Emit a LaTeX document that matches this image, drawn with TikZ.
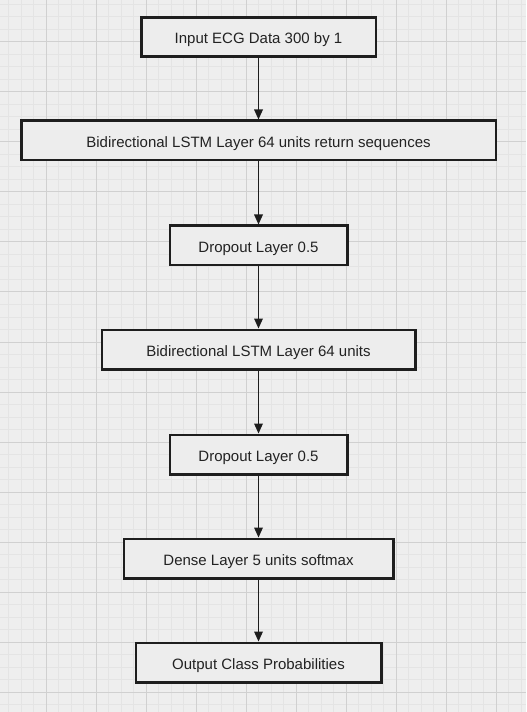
\documentclass[tikz,border=0pt]{standalone}
\usepackage{fontspec}
\setmainfont{Liberation Sans}
\usetikzlibrary{arrows.meta}
\definecolor{gridbg}{HTML}{EEEEEE}
\definecolor{gridminor}{HTML}{E4E4E4}
\definecolor{gridmajor}{HTML}{D0D0D0}
\definecolor{boxfill}{HTML}{EDEDED}
\definecolor{boxline}{HTML}{1E1E1E}
\definecolor{labelcol}{HTML}{222222}
\tikzset{
  >={Triangle[length=7.5pt, width=6.5pt]},
  link/.style ={line width=0.9pt, draw=boxline, ->},
  layer/.style={rectangle, draw=boxline, fill=boxfill, line width=1.9pt,
                minimum height=29.6pt, inner sep=0pt, text=labelcol,
                text height=10.2pt, text depth=0pt,
                font=\fontsize{11.25}{13}\selectfont},
}
\begin{document}
\begin{tikzpicture}[x=0.75pt, y=-0.75pt]
  \fill[gridbg] (0,0) rectangle (526,712);
  \useasboundingbox (0,0) rectangle (526,712);
  % --- background grid -------------------------------------------------------
  \foreach \gx in {8.5,21,...,526} \draw[gridminor, line width=0.75pt] (\gx,0) -- (\gx,712);
  \foreach \gy in {4.5,17,...,712} \draw[gridminor, line width=0.75pt] (0,\gy) -- (526,\gy);
  \foreach \gx in {46,96,...,496} \draw[gridmajor, line width=0.75pt] (\gx,0) -- (\gx,712);
  \foreach \gy in {42,92,...,692} \draw[gridmajor, line width=0.75pt] (0,\gy) -- (526,\gy);

  % --- layers ---------------------------------------------------------------
  \node[layer, minimum width=175.9pt] (input)   at (258.5,37)    {Input ECG Data 300 by 1};
  \node[layer, minimum width=355.9pt] (bilstmA) at (258.5,140.5) {Bidirectional LSTM Layer 64 units return sequences};
  \node[layer, minimum width=133.1pt] (dropA)   at (258.5,245.5) {Dropout Layer 0.5};
  \node[layer, minimum width=235.1pt] (bilstmB) at (258.5,349.5) {Bidirectional LSTM Layer 64 units};
  \node[layer, minimum width=133.1pt] (dropB)   at (258.5,454.5) {Dropout Layer 0.5};
  \node[layer, minimum width=202.1pt] (dense)   at (258.5,558.5) {Dense Layer 5 units softmax};
  \node[layer, minimum width=184.1pt] (output)  at (258.5,662.5) {Output Class Probabilities};

  \draw[link] (input)   -- (bilstmA);
  \draw[link] (bilstmA) -- (dropA);
  \draw[link] (dropA)   -- (bilstmB);
  \draw[link] (bilstmB) -- (dropB);
  \draw[link] (dropB)   -- (dense);
  \draw[link] (dense)   -- (output);
\end{tikzpicture}
\end{document}
